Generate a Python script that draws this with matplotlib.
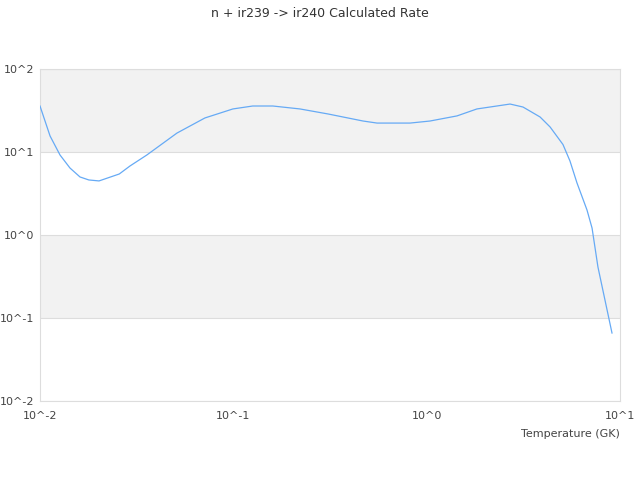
import matplotlib
matplotlib.use("Agg")
import matplotlib.pyplot as plt
import numpy as np

# temperature (GK) and calculated rate
temperature = [0.01, 0.01127, 0.01269, 0.01429, 0.0161, 0.0179, 0.0202, 0.0257,
               0.0292, 0.0357, 0.0511, 0.0713, 0.0995, 0.126, 0.160, 0.221,
               0.309, 0.469, 0.554, 0.820, 1.04, 1.435, 1.82, 2.70, 3.15,
               3.86, 4.35, 5.07, 5.51, 5.99, 6.75, 7.17, 7.69, 9.09]
rate = [35.8, 15.6, 9.2, 6.41, 5.0, 4.6, 4.48, 5.43,
        6.78, 9.2, 16.9, 25.7, 33.0, 35.8, 35.8, 33.0,
        28.7, 23.6, 22.3, 22.3, 23.6, 27.2, 33.0, 37.8, 34.8,
        26.4, 20.0, 12.3, 7.8, 4.24, 2.0, 1.21, 0.411, 0.0659]

x_ticks = [0.01, 0.1, 1, 10]
x_labels = ["10^-2", "10^-1", "10^0", "10^1"]
y_ticks = [0.01, 0.1, 1, 10, 100]
y_labels = ["10^-2", "10^-1", "10^0", "10^1", "10^2"]

fig = plt.figure(figsize=(6.4, 4.8), dpi=100)
ax = fig.add_axes([0.0625, 0.1646, 0.90625, 0.6917])

# alternating bands
for lo, hi in [(10, 100), (0.1, 1)]:
    ax.axhspan(lo, hi, color="#f2f2f2", zorder=0, lw=0)

ax.plot(temperature, rate, color="#66aaf5", lw=0.9, zorder=3)

ax.set_xscale("log")
ax.set_yscale("log")
ax.set_xlim(0.01, 10)
ax.set_ylim(0.01, 100)
ax.set_xticks(x_ticks)
ax.set_xticklabels(x_labels)
ax.set_yticks(y_ticks)
ax.set_yticklabels(y_labels)
ax.minorticks_off()
ax.tick_params(length=0, labelsize=8, colors="#444444")
ax.tick_params(axis="y", pad=4)
ax.tick_params(axis="x", pad=7)

for yv in y_ticks:
    ax.axhline(yv, color="#dddddd", lw=0.8, zorder=1)
for side in ax.spines.values():
    side.set_color("#dddddd")
    side.set_linewidth(0.8)

ax.set_xlabel("Temperature (GK)", fontsize=8, color="#444444", loc="right", labelpad=6)
fig.suptitle("n + ir239 -> ir240 Calculated Rate", fontsize=9, color="#333333", y=0.985)

fig.savefig("out.png", dpi=100)
